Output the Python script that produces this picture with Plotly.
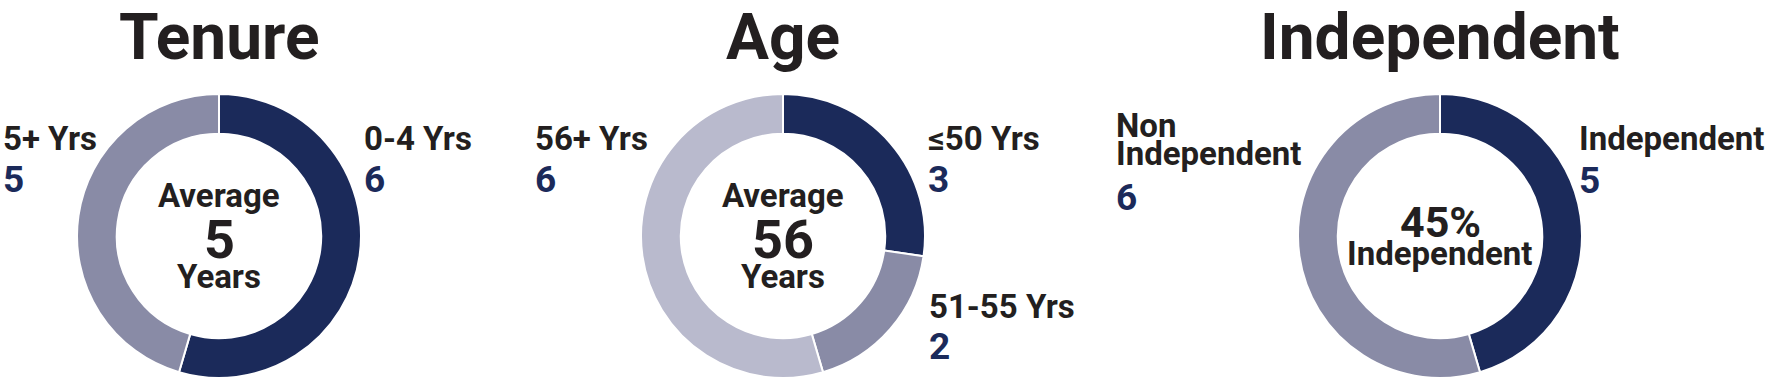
import plotly.graph_objects as go

# ---- data ----
tenure_labels = ["0-4 Yrs", "5+ Yrs"]
tenure_values = [6, 5]
tenure_avg = "5"

age_labels = ["≤50 Yrs", "51-55 Yrs", "56+ Yrs"]
age_values = [3, 2, 6]
age_avg = "56"

indep_labels = ["Independent", "Non Independent"]
indep_values = [5, 6]
indep_pct = "45%"

titles = ["Tenure", "Age", "Independent"]

# ---- style ----
W, H = 1771, 380
NAVY = "#1b2a5a"
MID = "#898ba6"
LIGHT = "#b9bacd"
INK = "#231f20"
FONT = "Roboto, 'Liberation Sans', sans-serif"

def px(x):
    return x / W

def py(y):
    return 1 - y / H

R = 142
CY = 236
centers = [219, 783, 1440]

def dom(cx):
    return dict(x=[px(cx - R), px(cx + R)], y=[py(CY + R), py(CY - R)])

fig = go.Figure()
series = [
    (tenure_labels, tenure_values, [NAVY, MID]),
    (age_labels, age_values, [NAVY, MID, LIGHT]),
    (indep_labels, indep_values, [NAVY, MID]),
]
for (labs, vals, cols), cx in zip(series, centers):
    fig.add_trace(go.Pie(
        labels=labs, values=vals, hole=0.72, sort=False,
        direction="clockwise", rotation=0,
        marker=dict(colors=cols, line=dict(color="white", width=2)),
        textinfo="none", showlegend=False, domain=dom(cx),
    ))

annots = []

def txt(text, x, baseline, size, color=INK, anchor="center"):
    annots.append(dict(
        text=text, x=px(x), y=py(baseline - 0.35 * size),
        xref="paper", yref="paper", xanchor=anchor, yanchor="middle",
        showarrow=False, borderpad=0,
        font=dict(family=FONT, size=size, color=color, weight=700),
    ))

LS = 33   # label size
NS = 37   # number size

# titles
for t, cx in zip(titles, centers):
    txt(t, cx, 60, 64)

# Tenure
txt(tenure_labels[1], 2, 150, LS, anchor="left")
txt(str(tenure_values[1]), 2, 192, NS, NAVY, anchor="left")
txt(tenure_labels[0], 363, 150, LS, anchor="left")
txt(str(tenure_values[0]), 363, 192, NS, NAVY, anchor="left")
txt("Average", centers[0], 207, LS)
txt(tenure_avg, centers[0], 258, 54)
txt("Years", centers[0], 288, LS)

# Age
txt(age_labels[2], 534, 150, LS, anchor="left")
txt(str(age_values[2]), 534, 192, NS, NAVY, anchor="left")
txt(age_labels[0], 927, 150, LS, anchor="left")
txt(str(age_values[0]), 927, 192, NS, NAVY, anchor="left")
txt(age_labels[1], 928, 318, LS, anchor="left")
txt(str(age_values[1]), 928, 359, NS, NAVY, anchor="left")
txt("Average", centers[1], 207, LS)
txt(age_avg, centers[1], 258, 54)
txt("Years", centers[1], 288, LS)

# Independent
non_words = indep_labels[1].split(" ")
txt(non_words[0], 1115, 137, LS, anchor="left")
txt(non_words[1], 1115, 165, LS, anchor="left")
txt(str(indep_values[1]), 1115, 210, NS, NAVY, anchor="left")
txt(indep_labels[0], 1578, 150, LS, anchor="left")
txt(str(indep_values[0]), 1578, 193, NS, NAVY, anchor="left")
txt(indep_pct, centers[2], 237, 43)
txt("Independent", centers[2], 265, LS)

fig.update_layout(
    width=W, height=H, margin=dict(l=0, r=0, t=0, b=0),
    paper_bgcolor="white", plot_bgcolor="white",
    annotations=annots,
)
fig.write_html("out.html")
